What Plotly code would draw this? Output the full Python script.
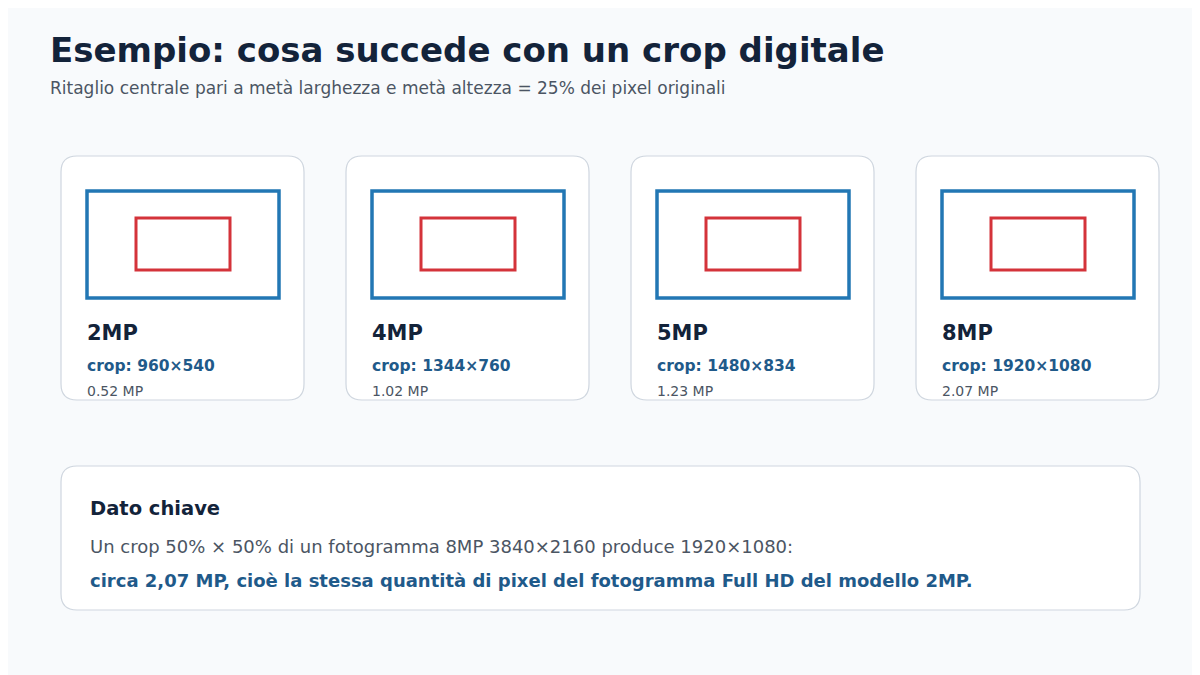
import plotly.graph_objects as go

models = ["2MP", "4MP", "5MP", "8MP"]
crops = ["crop: 960×540", "crop: 1344×760", "crop: 1480×834", "crop: 1920×1080"]
crop_mp = ["0.52 MP", "1.02 MP", "1.23 MP", "2.07 MP"]

FONT = "DejaVu Sans"
DARK = "#13233a"
BLUE_TXT = "#1f5a8a"
GREY = "#4b5563"


def rounded(x0, y0, x1, y1, r):
    return (f"M{x0+r},{y0} L{x1-r},{y0} Q{x1},{y0} {x1},{y0+r} L{x1},{y1-r} Q{x1},{y1} {x1-r},{y1} "
            f"L{x0+r},{y1} Q{x0},{y1} {x0},{y1-r} L{x0},{y0+r} Q{x0},{y0} {x0+r},{y0} Z")


fig = go.Figure()
shapes = []
annotations = []

for i, (m, c, mp) in enumerate(zip(models, crops, crop_mp)):
    x0 = 61 + i * 285
    shapes.append(dict(type="path", path=rounded(x0, 156, x0 + 243, 400, 16),
                       fillcolor="white", line=dict(color="#cfd6df", width=1.2), layer="below"))
    shapes.append(dict(type="rect", x0=x0 + 26, y0=191, x1=x0 + 218, y1=298,
                       line=dict(color="#2277b4", width=3.5), fillcolor="white"))
    shapes.append(dict(type="rect", x0=x0 + 75, y0=218, x1=x0 + 169, y1=270,
                       line=dict(color="#d4333a", width=3), fillcolor="white"))
    annotations += [
        dict(x=x0 + 24, y=333, text=f"<b>{m}</b>", font=dict(size=21, color=DARK)),
        dict(x=x0 + 24, y=366, text=f"<b>{c}</b>", font=dict(size=15.5, color=BLUE_TXT)),
        dict(x=x0 + 24, y=391, text=mp, font=dict(size=14, color=GREY)),
    ]

shapes.append(dict(type="path", path=rounded(61, 466, 1140, 610, 16),
                   fillcolor="white", line=dict(color="#cfd6df", width=1.2), layer="below"))

annotations += [
    dict(x=48, y=50, text="<b>Esempio: cosa succede con un crop digitale</b>", font=dict(size=34, color=DARK)),
    dict(x=48, y=88, text="Ritaglio centrale pari a metà larghezza e metà altezza = 25% dei pixel originali",
         font=dict(size=17, color=GREY)),
    dict(x=88, y=508, text="<b>Dato chiave</b>", font=dict(size=19.5, color=DARK)),
    dict(x=88, y=546, text="Un crop 50% × 50% di un fotogramma 8MP 3840×2160 produce 1920×1080:",
         font=dict(size=18, color=GREY)),
    dict(x=88, y=580, text="<b>circa 2,07 MP, cioè la stessa quantità di pixel del fotogramma Full HD del modello 2MP.</b>",
         font=dict(size=18, color=BLUE_TXT)),
]
for a in annotations:
    a.update(xref="x", yref="y", xanchor="left", yanchor="middle", showarrow=False)
    a["font"]["family"] = FONT

# the page body adds an 8px offset, so shift the data ranges to compensate
fig.update_layout(
    width=1200, height=675, margin=dict(l=0, r=0, t=0, b=0),
    paper_bgcolor="#f8fafc", plot_bgcolor="#f8fafc",
    xaxis=dict(range=[8, 1208], visible=False, fixedrange=True),
    yaxis=dict(range=[683, 8], visible=False, fixedrange=True),
    shapes=shapes, annotations=annotations, showlegend=False,
)
fig.write_html("out.html")
